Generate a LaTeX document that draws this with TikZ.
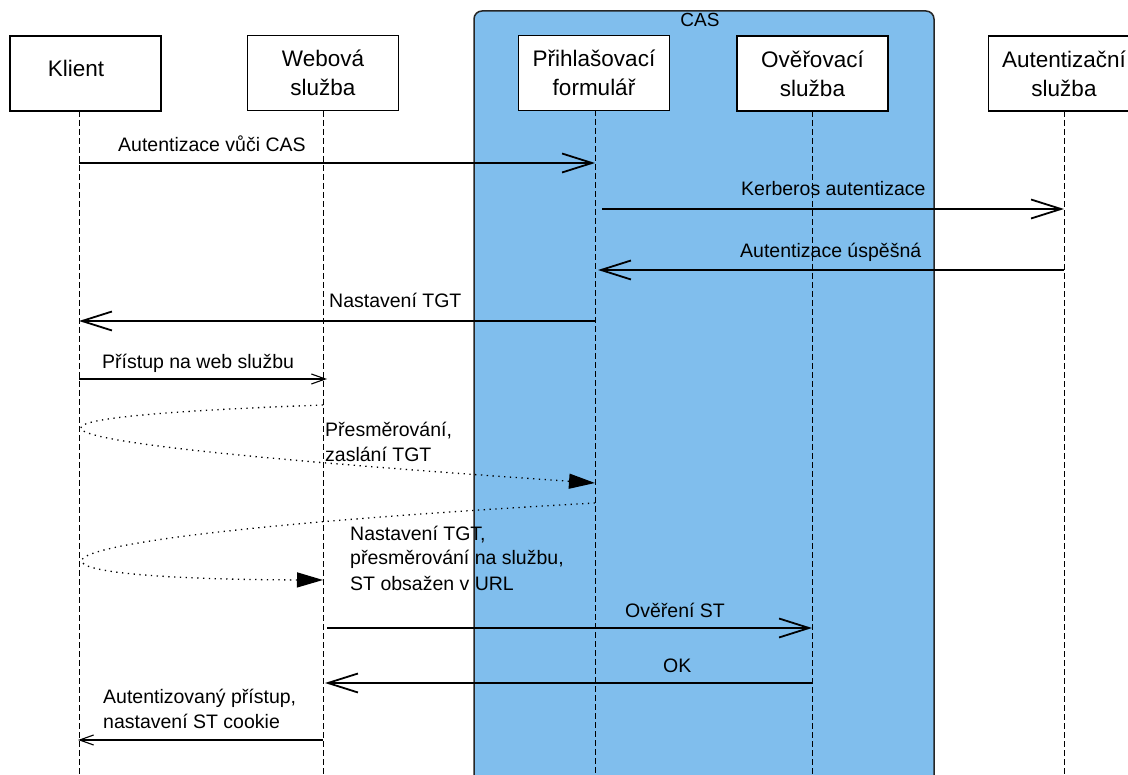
\documentclass[tikz,border=0pt]{standalone}
\usepackage{fontspec}
\setmainfont{Liberation Sans}
\usetikzlibrary{arrows.meta}
\definecolor{casblue}{RGB}{128,190,237}
\tikzset{
  actor/.style={draw=black, line width=1.1pt, fill=white, minimum width=151pt, minimum height=75pt, inner sep=0pt, align=center, font=\fontsize{22.5}{29}\selectfont},
  life/.style={draw=black, line width=0.9pt, dash pattern=on 6pt off 3pt},
  msg/.style={line width=1.8pt, -{Straight Barb[length=30pt,width=19pt,line width=1.8pt]}},
  thinmsg/.style={line width=1.1pt, -{Straight Barb[length=14pt,width=10pt,line width=1.1pt]}},
  dotmsg/.style={line width=1.3pt, dash pattern=on 1.3pt off 4.5pt, -{Triangle[length=26pt,width=15pt]}},
  lbl/.style={anchor=base west, inner sep=0pt, font=\fontsize{19.5}{25}\selectfont, align=left},
}
\begin{document}
\begin{tikzpicture}[x=1pt,y=-1pt]
\clip (0,0) rectangle (1128,775);
\fill[white] (0,0) rectangle (1128,775);
% CAS group
\draw[fill=casblue, draw=black!85, line width=1.5pt, rounded corners=8pt] (474,11) rectangle (934,800);
\node[anchor=base, inner sep=0pt, font=\fontsize{19}{22}\selectfont] (cas) at (700,27) {CAS};
% lifelines
\def\xK{79}\def\xW{323}\def\xP{595}\def\xO{812}\def\xA{1064}
\coordinate (kt) at (\xK,111); \coordinate (kb) at (\xK,775);
\coordinate (wt) at (\xW,111); \coordinate (wb) at (\xW,775);
\coordinate (pt) at (\xP,110); \coordinate (pb) at (\xP,775);
\coordinate (ot) at (\xO,111); \coordinate (ob) at (\xO,775);
\coordinate (at) at (\xA,111); \coordinate (ab) at (\xA,775);
\draw[life] (kt) -- (kb);
\draw[life] (wt) -- (wb);
\draw[life] (pt) -- (pb);
\draw[life] (ot) -- (ob);
\draw[life] (at) -- (ab);
% actors
\node[actor] (kl) at (85.5,73.5) {};
\node[anchor=base, inner sep=0pt, font=\fontsize{22.5}{29}\selectfont] (kltext) at (76,77) {Klient};
\node[actor] (web) at (323,73) {Webová\\služba};
\node[actor] (prih) at (594,73) {Přihlašovací\\formulář};
\node[actor] (over) at (812.5,73.5) {Ověřovací\\služba};
\node[actor] (aut) at (1064,73.5) {Autentizační\\služba};
% messages
\coordinate (m1a) at (\xK,163); \coordinate (m1b) at (\xP,163);
\draw[msg] (m1a) -- (m1b);
\node[lbl] (l1) at (118,152) {Autentizace vůči CAS};
\coordinate (m2a) at (602,209); \coordinate (m2b) at (\xA,209);
\draw[msg] (m2a) -- (m2b);
\node[lbl] (l2) at (741,196) {Kerberos autentizace};
\coordinate (m3a) at (\xA,270); \coordinate (m3b) at (598,270);
\draw[msg] (m3a) -- (m3b);
\node[lbl] (l3) at (740,258) {Autentizace úspěšná};
\coordinate (m4a) at (\xP,321); \coordinate (m4b) at (\xK,321);
\draw[msg] (m4a) -- (m4b);
\node[lbl] (l4) at (329,308) {Nastavení TGT};
\coordinate (m5a) at (\xK,379); \coordinate (m5b) at (327,379);
\draw[thinmsg] (m5a) -- (m5b);
\node[lbl] (l5) at (102,369) {Přístup na web službu};
\coordinate (m6a) at (\xW,405); \coordinate (m6b) at (\xP,483);
\draw[dotmsg] (m6a) .. controls (-33,418) and (-33,440) .. (m6b);
\node[lbl] (l6) at (325,462) {Přesměrování,\\zaslání TGT};
\coordinate (m7a) at (\xP,503); \coordinate (m7b) at (\xW,580);
\draw[dotmsg] (m7a) .. controls (-28,538) and (-28,579) .. (m7b);
\node[lbl] (l7) at (350,590) {Nastavení TGT,\\přesměrování na službu,\\ST obsažen v URL};
\coordinate (m8a) at (327,628); \coordinate (m8b) at (\xO,628);
\draw[msg] (m8a) -- (m8b);
\node[lbl] (l8) at (625,617) {Ověření ST};
\coordinate (m9a) at (\xO,683); \coordinate (m9b) at (325,683);
\draw[msg] (m9a) -- (m9b);
\node[lbl] (l9) at (663,672) {OK};
\coordinate (m10a) at (\xW,740); \coordinate (m10b) at (78,740);
\draw[thinmsg] (m10a) -- (m10b);
\node[lbl] (l10) at (103,728) {Autentizovaný přístup,\\nastavení ST cookie};
\end{tikzpicture}
\end{document}
